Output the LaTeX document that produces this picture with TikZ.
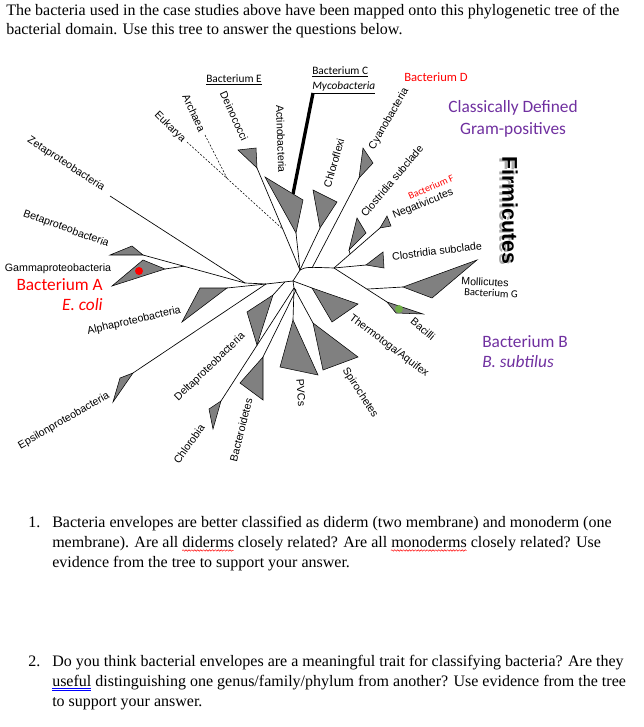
\documentclass[tikz,border=0pt]{standalone}
\usepackage{fontspec}
\setmainfont{Liberation Serif}
\newfontfamily\arialf{Liberation Sans}
\newfontfamily\calf{Carlito}
\usetikzlibrary{calc,decorations.pathmorphing}
\definecolor{wpurple}{RGB}{112,48,160}
\definecolor{cladegray}{RGB}{128,128,128}
\definecolor{dotgreen}{RGB}{112,173,71}
\newlength\wdA \newlength\wdB \newlength\wdC \newlength\wdD \newlength\wdE
\begin{document}
\settowidth\wdA{\fontsize{12}{14}\selectfont membrane). Are all }%
\settowidth\wdB{\fontsize{12}{14}\selectfont diderms}%
\settowidth\wdC{\fontsize{12}{14}\selectfont membrane). Are all diderms closely related? Are all }%
\settowidth\wdD{\fontsize{12}{14}\selectfont monoderms}%
\settowidth\wdE{\fontsize{12}{14}\selectfont useful}%
\begin{tikzpicture}[x=0.75pt,y=-0.75pt,
  br/.style={draw=black,line width=0.5pt},
  dbr/.style={draw=black,line width=0.4pt,dash pattern=on 1.5pt off 1.2pt},
  clade/.style={fill=cladegray,draw=black,line width=0.4pt,line join=miter},
  lab/.style={font=\arialf\fontsize{8}{9.6}\selectfont,inner sep=0pt,anchor=center},
  txt/.style={font=\fontsize{12}{14}\selectfont,inner sep=0pt,anchor=base west},
  cal/.style={font=\calf\fontsize{13}{15}\selectfont,inner sep=0pt},
  squig/.style={draw=red,line width=0.35pt,decorate,decoration={snake,segment length=2.2pt,amplitude=0.55pt}}]
\useasboundingbox (0,0) rectangle (643,727);
\fill[white] (0,0) rectangle (643,727);

% header
\node[txt] (h1) at (6,16) {The bacteria used in the case studies above have been mapped onto this phylogenetic tree of the};
\node[txt] (h2) at (6,35) {bacterial domain. Use this tree to answer the questions below.};

% coordinates: junctions
\coordinate (C0) at (293,281);
\coordinate (U) at (300,270);
\coordinate (L) at (294,288);
\coordinate (Lb) at (296,290);
\coordinate (P) at (245,283);
\coordinate (E0) at (266,284);
\coordinate (F) at (334,268);
% clade vertices
\coordinate (zetaE) at (110,196);
\coordinate (beA) at (143,255); \coordinate (beB) at (110,255); \coordinate (beC) at (132,246);
\coordinate (gaA) at (165,269); \coordinate (gaB) at (112,286); \coordinate (gaC) at (143,260);
\coordinate (alA) at (227,288); \coordinate (alB) at (182,322); \coordinate (alC) at (200,288);
\coordinate (epA) at (133,373); \coordinate (epB) at (113,402); \coordinate (epC) at (120,378);
\coordinate (deA) at (273,295); \coordinate (deB) at (247,312); \coordinate (deC) at (257,345);
\coordinate (cbA) at (221,401); \coordinate (cbB) at (209,409); \coordinate (cbC) at (213,429);
\coordinate (btA) at (263,357); \coordinate (btB) at (240,383); \coordinate (btC) at (263,400);
\coordinate (pvA) at (293,320); \coordinate (pvB) at (280,367); \coordinate (pvC) at (318,375);
\coordinate (spA) at (313,323); \coordinate (spB) at (323,370); \coordinate (spC) at (358,357);
\coordinate (thA) at (312,288); \coordinate (thB) at (358,304); \coordinate (thC) at (332,322);
\coordinate (baA) at (387,302); \coordinate (baB) at (423,314); \coordinate (baC) at (396,313);
\coordinate (moA) at (403,287); \coordinate (moB) at (477,260); \coordinate (moC) at (432,298);
\coordinate (clA) at (366,265); \coordinate (clB) at (383,252); \coordinate (clC) at (384,268);
\coordinate (neA) at (380,228); \coordinate (neB) at (387,216); \coordinate (neC) at (391,226);
\coordinate (cuA) at (349,250); \coordinate (cuB) at (357,218); \coordinate (cuC) at (366,233);
\coordinate (cyA) at (359,178); \coordinate (cyB) at (363,148); \coordinate (cyC) at (373,163);
\coordinate (cfA) at (320,228); \coordinate (cfB) at (313,190); \coordinate (cfC) at (337,202);
\coordinate (acA) at (296,233); \coordinate (acB) at (265,177); \coordinate (acC) at (303,200);
\coordinate (dnA) at (257,168); \coordinate (dnB) at (238,150); \coordinate (dnC) at (256,148);
\coordinate (myT) at (313,93); \coordinate (myB) at (293,194);
\coordinate (eukE) at (187,142); \coordinate (arcE) at (205,135);
% derived junctions
\coordinate (BGj) at ($(beA)!0.4!(P)$);
\coordinate (Dn) at ($(E0)!0.7!(C0)$);
\coordinate (Dj) at ($(dnA)!0.6!(U)$);
\coordinate (Ar) at ($(eukE)!0.42!(Dj)$);
\coordinate (Cj) at (312,268);
\coordinate (cuj) at ($(F)!0.35!(neA)$);
\coordinate (M) at ($(F)!0.62!(baA)$);

% branches
\draw[br] (zetaE) -- (P);
\draw[br] (beA) -- (P);
\draw[br] (gaA) -- (BGj);
\draw[br] (P) -- (E0) -- (C0);
\draw[br] (alA) -- (E0);
\draw[br] (epA) -- (E0);
\draw[br] (deA) -- (Dn);
\draw[br] (C0) -- (L);
\draw[br] (L) -- (cbA);
\draw[br] (L) -- (Lb);
\draw[br] (btA) -- (Lb);
\draw[br] (L) -- (pvA);
\draw[br] (L) -- (spA);
\draw[br] (C0) -- (thA);
\draw[br] (C0) -- (U);
\draw[br] (dnA) -- (U);
\draw[dbr] (eukE) -- (Dj);
\draw[dbr] (arcE) -- (Ar);
\draw[br] (acA) -- (U);
\draw[br] (cfA) -- (U);
\draw[br] (U) .. controls (306,267) .. (F);
\draw[br] (cyA) -- (Cj);
\draw[br] (F) -- (neA);
\draw[br] (cuA) -- (cuj);
\draw[br] (F) -- (clA);
\draw[br] (F) -- (baA);
\draw[br] (M) -- (moA);
\draw[line width=2.5pt] (myT) -- (myB);

% clades
\foreach \c in {be,ga,al,ep,de,cb,bt,pv,sp,th,ba,mo,cl,ne,cu,cy,cf,ac,dn}
  \filldraw[clade] (\c A) -- (\c B) -- (\c C) -- cycle;

% dots
\fill[red] (139,271) circle (4);
\fill[dotgreen] (399,309) circle (4);

% clade labels
\node[lab,rotate=-33] (tZeta) at (66,164) {Zetaproteobacteria};
\node[lab,rotate=-20] (tBeta) at (66,229) {Betaproteobacteria};
\node[lab] (tGamma) at (58,269) {Gammaproteobacteria};
\node[lab,rotate=13] (tAlpha) at (134,321) {Alphaproteobacteria};
\node[lab,rotate=30] (tEps) at (64,421) {Epsilonproteobacteria};
\node[lab,rotate=44] (tDelta) at (210,367) {Deltaproteobacteria};
\node[lab,rotate=55] (tChlb) at (189,444) {Chlorobia};
\node[lab,rotate=76] (tBact) at (241,430) {Bacteroidetes};
\node[lab,rotate=-86] (tPVC) at (301,393) {PVCs};
\node[lab,rotate=-57] (tSpiro) at (360,393) {Spirochetes};
\node[lab,rotate=-37] (tThermo) at (389,346) {Thermotoga/Aquifex};
\node[lab,rotate=-40] (tBac) at (423,329) {Bacilli};
\node[lab,rotate=-3] (tMoll) at (485,282) {Mollicutes};
\node[font=\calf\fontsize{8}{9}\selectfont,inner sep=0pt,rotate=-3] (tBG) at (491,293) {Bacterium G};
\node[lab,rotate=7] (tClL) at (437,251) {Clostridia subclade};
\node[lab,rotate=22] (tNeg) at (423,204) {Negativicutes};
\node[font=\calf\fontsize{7.5}{9}\selectfont,text=red,inner sep=0pt,rotate=24] (tBF) at (431,187) {Bacterium F};
\node[lab,rotate=50] (tClU) at (392,181) {Clostridia subclade};
\node[lab,rotate=60] (tCyan) at (389,119) {Cyanobacteria};
\node[lab,rotate=74] (tChlf) at (334,163) {Chloroflexi};
\node[lab,rotate=-88] (tActi) at (281,139) {Actinobacteria};
\node[lab,rotate=-65] (tDein) at (234,116) {Deinococci};
\node[lab,rotate=-65] (tArch) at (194,113) {Archaea};
\node[lab,rotate=-45] (tEuk) at (170,127) {Eukarya};

% bacterium labels
\node[font=\calf\fontsize{8.5}{10}\selectfont,inner sep=0pt] (tBE) at (234,80) {\underline{Bacterium E}};
\node[font=\calf\fontsize{8.5}{10}\selectfont,inner sep=0pt,anchor=west] (tBC) at (312,72) {\underline{Bacterium C}};
\node[font=\calf\itshape\fontsize{8.5}{10}\selectfont,inner sep=0pt,anchor=west] (tMyco) at (312,88) {\underline{Mycobacteria}};
\node[font=\calf\fontsize{9.5}{11}\selectfont,text=red,inner sep=0pt] (tBD) at (436,77) {Bacterium D};
\node[cal,text=wpurple,align=center] (tGP) at (513,119) {Classically Defined\\[1pt]Gram-positives};
\node[cal,text=red,anchor=east] (tBA) at (103,285) {Bacterium A};
\node[cal,text=red,anchor=east] (tEc) at (103,305) {\itshape E. coli};
\node[cal,text=wpurple,anchor=west] (tBB) at (482,342) {Bacterium B};
\node[cal,text=wpurple,anchor=west] (tBs) at (482,362) {\itshape B. subtilus};

% Firmicutes with shadow
\node[font=\arialf\bfseries\fontsize{16}{18}\selectfont,text=black!40,opacity=0.8,inner sep=0pt,rotate=-90] (firmS) at (507,211) {Firmicutes};
\node[font=\arialf\bfseries\fontsize{16}{18}\selectfont,text=black,inner sep=0pt,rotate=-90] (firm) at (510,210) {Firmicutes};

% questions
\node[txt] (q1n) at (28,527) {1.};
\node[txt] (q1a) at (52,527) {Bacteria envelopes are better classified as diderm (two membrane) and monoderm (one};
\node[txt] (q1b) at (52,547) {membrane). Are all diderms closely related? Are all monoderms closely related? Use};
\node[txt] (q1c) at (52,567) {evidence from the tree to support your answer.};
\node[txt] (q2n) at (28,666) {2.};
\node[txt] (q2a) at (52,666) {Do you think bacterial envelopes are a meaningful trait for classifying bacteria? Are they};
\node[txt] (q2b) at (52,686) {useful distinguishing one genus/family/phylum from another? Use evidence from the tree};
\node[txt] (q2c) at (52,706) {to support your answer.};

% spelling / grammar marks
\draw[squig] ($(q1b.base west)+(\wdA,-2.6pt)$) -- ++(\wdB,0pt);
\draw[squig] ($(q1b.base west)+(\wdC,-2.6pt)$) -- ++(\wdD,0pt);
\draw[blue,line width=0.4pt] ($(q2b.base west)+(0pt,-1.8pt)$) -- ++(\wdE,0pt);
\draw[blue,line width=0.4pt] ($(q2b.base west)+(0pt,-3.0pt)$) -- ++(\wdE,0pt);
\end{tikzpicture}
\end{document}
